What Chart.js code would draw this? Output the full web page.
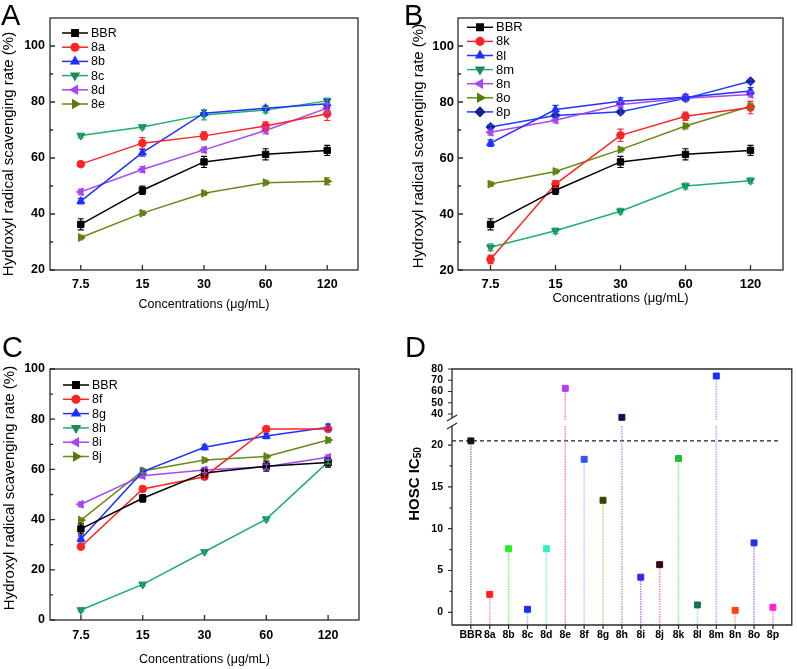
<!DOCTYPE html>
<html>
<head>
<meta charset="utf-8">
<title>Hydroxyl radical scavenging</title>
<script src="https://cdn.jsdelivr.net/npm/chart.js@4.4.1/dist/chart.umd.min.js"></script>
<style>
  body { margin: 0; background: #fff; }
  #wrap { position: relative; width: 797px; height: 669px; overflow: hidden; font-family: "Liberation Sans", Arial, sans-serif; }
  .panel { position: absolute; }
  .panel canvas { display: block; }
  .tag { position: absolute; font-size: 29px; line-height: 1; color: #000; }
</style>
</head>
<body>
<div id="wrap">
  <div class="panel" style="left:0;top:0"><canvas id="chartA" width="400" height="330"></canvas></div>
  <div class="panel" style="left:400px;top:0"><canvas id="chartB" width="397" height="330"></canvas></div>
  <div class="panel" style="left:0;top:330px"><canvas id="chartC" width="400" height="339"></canvas></div>
  <div class="panel" style="left:400px;top:330px"><canvas id="chartD" width="397" height="339"></canvas></div>
  <div class="tag" style="left:1px;top:1px">A</div>
  <div class="tag" style="left:404px;top:1px">B</div>
  <div class="tag" style="left:2px;top:333px">C</div>
  <div class="tag" style="left:405px;top:333px">D</div>
</div>
<script>
// ---- data ----
const concLabels = ["7.5", "15", "30", "60", "120"];
const yTicksAB = [20, 40, 60, 80, 100];
const yTicksC = [0, 20, 40, 60, 80, 100];

const bbrRate = [36.3, 48.5, 58.6, 61.3, 62.7];
const bbrErr = [2.0, 1.5, 2.0, 2.0, 1.8];

// panel A
const rate8a = [57.8, 65.3, 67.9, 71.4, 75.8];
const err8a = [0.8, 2.0, 1.4, 1.5, 2.4];
const rate8b = [44.6, 61.9, 76.0, 77.8, 79.4];
const err8b = [1.0, 1.2, 1.0, 0.8, 1.5];
const rate8c = [68.0, 71.1, 75.4, 77.1, 80.4];
const err8c = [0.8, 0.8, 1.8, 1.0, 1.0];
const rate8d = [47.9, 55.9, 62.9, 69.8, 77.8];
const err8d = [1.0, 1.0, 1.0, 1.2, 1.5];
const rate8e = [31.6, 40.3, 47.4, 51.2, 51.7];
const err8e = [0.8, 0.8, 0.8, 0.8, 1.2];

// panel B
const rate8k = [23.8, 50.7, 68.1, 74.9, 78.0];
const err8k = [1.5, 1.2, 2.2, 1.5, 2.2];
const rate8l = [65.3, 77.3, 80.3, 81.7, 83.9];
const err8l = [1.2, 1.5, 1.2, 1.0, 1.2];
const rate8m = [28.1, 34.0, 41.0, 50.0, 51.9];
const err8m = [1.2, 1.0, 1.0, 1.0, 1.0];
const rate8n = [69.2, 73.5, 79.1, 81.3, 82.7];
const err8n = [1.0, 1.0, 1.0, 1.0, 1.0];
const rate8o = [50.7, 55.2, 63.0, 71.4, 78.5];
const err8o = [0.8, 0.8, 0.8, 1.0, 1.0];
const rate8p = [71.1, 75.2, 76.5, 81.3, 87.4];
const err8p = [0.8, 0.8, 0.8, 0.8, 0.8];

// panel C
const rate8f = [29.2, 52.2, 57.1, 76.1, 76.1];
const err8f = [1.0, 1.0, 1.0, 0.8, 0.8];
const rate8g = [32.3, 59.1, 68.8, 73.3, 76.8];
const err8g = [1.2, 1.0, 1.0, 1.0, 1.2];
const rate8h = [4.0, 14.2, 27.2, 40.2, 63.0];
const err8h = [0.8, 0.8, 0.8, 0.8, 0.8];
const rate8i = [46.1, 57.5, 59.8, 61.1, 64.8];
const err8i = [1.0, 1.0, 1.0, 1.0, 1.0];
const rate8j = [39.8, 59.4, 63.7, 65.1, 71.7];
const err8j = [0.8, 0.8, 0.8, 0.8, 1.0];

// panel D
const compounds = ["BBR", "8a", "8b", "8c", "8d", "8e", "8f", "8g", "8h", "8i", "8j", "8k", "8l", "8m", "8n", "8o", "8p"];
const hoscIC50 = [20.5, 2.15, 7.6, 0.36, 7.6, 62.8, 18.3, 13.4, 37.0, 4.2, 5.7, 18.4, 0.88, 73.8, 0.24, 8.3, 0.6];
const dTicksLow = [0, 5, 10, 15, 20];
const dTicksHigh = [40, 50, 60, 70, 80];
const breakAt = 30;

const markColors = ["#111111", "#ff2020", "#22ee22", "#1a30ff", "#30f0c0", "#b040f0", "#3050ff", "#40400a", "#101050",
  "#3a20f0", "#3a0010", "#20c030", "#107848", "#1a30ff", "#ff4010", "#2030f0", "#ff20d8"];
const stemColors = ["#9a9a9a", "#ff9cb8", "#90ee70", "#a8b8ff", "#80f0d8", "#ff88d8", "#c0c8ff", "#b0e080", "#a8b0f0",
  "#c080f0", "#f090c0", "#90ee90", "#90e8d8", "#a8b8f8", "#ffb090", "#c090f0", "#ff90e0"];

// ---- styles ----
const FONT = '"Liberation Sans", Arial, sans-serif';
Chart.defaults.font.family = FONT;
Chart.defaults.color = "#000";
const FRAME = "#2b2b2b";
const BLACK = "#000000", RED = "#ff2424", BLUE = "#1f30ff", GREEN = "#20ae6e", PURPLE = "#a845f5", OLIVE = "#6a8a14";

function series(label, data, errors, color, style, rotation, pointColor) {
  const r = style === "circle" ? 3.8 : 4.5;
  return {
    label, data, errors,
    borderColor: color, backgroundColor: color, borderWidth: 1.5,
    pointStyle: style, pointRotation: rotation || 0,
    pointRadius: r, pointHoverRadius: r,
    pointBackgroundColor: pointColor || color,
    pointBorderColor: pointColor || color,
    pointBorderWidth: 1,
    tension: 0
  };
}

// ---- plugins ----
const errorBars = {
  id: "errorBars",
  afterDatasetsDraw(chart) {
    const { ctx } = chart;
    const ys = chart.scales.y;
    chart.data.datasets.forEach((ds, i) => {
      if (!ds.errors) return;
      const meta = chart.getDatasetMeta(i);
      ctx.save();
      ctx.strokeStyle = ds.borderColor;
      ctx.lineWidth = 1.2;
      ctx.beginPath();
      meta.data.forEach((pt, j) => {
        const v = ds.data[j], e = ds.errors[j];
        const y1 = ys.getPixelForValue(v + e), y2 = ys.getPixelForValue(v - e);
        ctx.moveTo(pt.x, y1); ctx.lineTo(pt.x, y2);
        ctx.moveTo(pt.x - 3, y1); ctx.lineTo(pt.x + 3, y1);
        ctx.moveTo(pt.x - 3, y2); ctx.lineTo(pt.x + 3, y2);
      });
      ctx.stroke();
      ctx.restore();
    });
  }
};

const insideLegend = {
  id: "insideLegend",
  afterDraw(chart, args, opts) {
    const { ctx, chartArea: a } = chart;
    ctx.save();
    chart.data.datasets.forEach((ds, i) => {
      const y = a.top + opts.top + i * opts.gap;
      const x0 = a.left + opts.left;
      ctx.strokeStyle = ds.borderColor;
      ctx.lineWidth = 1.5;
      ctx.beginPath(); ctx.moveTo(x0, y); ctx.lineTo(x0 + 26, y); ctx.stroke();
      ctx.fillStyle = ds.pointBackgroundColor;
      ctx.strokeStyle = ds.pointBorderColor;
      Chart.helpers.drawPoint(ctx, { pointStyle: ds.pointStyle, rotation: ds.pointRotation, radius: ds.pointRadius, borderWidth: 1 }, x0 + 13, y);
      ctx.fillStyle = "#000";
      ctx.font = opts.size + "px " + FONT;
      ctx.textBaseline = "middle";
      ctx.textAlign = "left";
      ctx.fillText(ds.label, x0 + 29, y + 0.5);
    });
    ctx.restore();
  }
};

const frameTicks = {
  id: "frameTicks",
  afterDraw(chart, args, opts) {
    const { ctx, chartArea: a, scales: { x, y } } = chart;
    ctx.save();
    ctx.strokeStyle = FRAME;
    ctx.lineWidth = 1.3;
    ctx.strokeRect(a.left, a.top, a.right - a.left, a.bottom - a.top);
    ctx.beginPath();
    const major = y.ticks.map(t => t.value);
    major.forEach((v, i) => {
      const py = y.getPixelForValue(v);
      ctx.moveTo(a.left, py); ctx.lineTo(a.left + 5, py);
      if (i < major.length - 1) {
        const pm = y.getPixelForValue((v + major[i + 1]) / 2);
        ctx.moveTo(a.left, pm); ctx.lineTo(a.left + 3, pm);
      }
    });
    x.ticks.forEach((t, i) => {
      const px = x.getPixelForTick(i);
      ctx.moveTo(px, a.bottom); ctx.lineTo(px, a.bottom - 5);
    });
    ctx.stroke();
    // y title
    ctx.translate(opts.titleX, opts.titleY);
    ctx.rotate(-Math.PI / 2);
    ctx.fillStyle = "#000";
    ctx.font = opts.titleSize + "px " + FONT;
    ctx.textAlign = "center";
    ctx.textBaseline = "middle";
    ctx.fillText("Hydroxyl radical scavenging rate (%)", 0, 0);
    ctx.restore();
  }
};

function lineOptions(p) {
  return {
    responsive: false,
    animation: false,
    devicePixelRatio: 1,
    layout: { padding: { left: 0, top: p.top, right: p.right, bottom: p.bottom } },
    plugins: {
      legend: { display: false },
      tooltip: { enabled: false },
      insideLegend: p.legend,
      frameTicks: p.frame
    },
    scales: {
      x: {
        type: "category",
        offset: true,
        grid: { display: false, drawTicks: false },
        border: { display: false },
        ticks: { padding: p.xPad, maxRotation: 0, font: { size: p.tickSize, weight: "bold" } },
        title: { display: true, text: "Concentrations (μg/mL)", font: { size: p.xTitleSize }, padding: { top: 0, bottom: p.xTitlePad } },
        afterFit: s => { s.height = p.xHeight; }
      },
      y: {
        min: p.yMin,
        max: p.yMax,
        afterBuildTicks: s => { s.ticks = p.yTicks.map(v => ({ value: v })); },
        grid: { display: false, drawTicks: false },
        border: { display: false },
        ticks: { padding: p.yPad, font: { size: p.tickSize, weight: "bold" } },
        afterFit: s => { s.width = p.yWidth; }
      }
    }
  };
}

// ---- panel A ----
new Chart(document.getElementById("chartA"), {
  type: "line",
  data: {
    labels: concLabels,
    datasets: [
      series("BBR", bbrRate, bbrErr, BLACK, "rect"),
      series("8a", rate8a, err8a, RED, "circle"),
      series("8b", rate8b, err8b, BLUE, "triangle"),
      series("8c", rate8c, err8c, GREEN, "triangle", 180, "#168c56"),
      series("8d", rate8d, err8d, PURPLE, "triangle", -90),
      series("8e", rate8e, err8e, OLIVE, "triangle", 90, "#5a7a0e")
    ]
  },
  options: lineOptions({
    top: 18, right: 42, bottom: 10, xHeight: 50, yWidth: 50,
    yMin: 20, yMax: 110, yTicks: yTicksAB,
    tickSize: 12.5, xPad: 7, yPad: 5, xTitleSize: 12.5, xTitlePad: 7.5,
    legend: { left: 12, top: 15, gap: 14.2, size: 12.5 },
    frame: { titleX: 9, titleY: 154, titleSize: 15 }
  }),
  plugins: [errorBars, insideLegend, frameTicks]
});

// ---- panel B ----
new Chart(document.getElementById("chartB"), {
  type: "line",
  data: {
    labels: concLabels,
    datasets: [
      series("BBR", bbrRate, bbrErr, BLACK, "rect"),
      series("8k", rate8k, err8k, RED, "circle"),
      series("8l", rate8l, err8l, BLUE, "triangle"),
      series("8m", rate8m, err8m, GREEN, "triangle", 180, "#168c56"),
      series("8n", rate8n, err8n, PURPLE, "triangle", -90),
      series("8o", rate8o, err8o, OLIVE, "triangle", 90, "#5a7a0e"),
      series("8p", rate8p, err8p, "#1f3cff", "rectRot", 0, "#14248c")
    ]
  },
  options: lineOptions({
    top: 18, right: 14, bottom: 10, xHeight: 50, yWidth: 58,
    yMin: 20, yMax: 110, yTicks: yTicksAB,
    tickSize: 13, xPad: 7, yPad: 4, xTitleSize: 13, xTitlePad: 14,
    legend: { left: 9, top: 9.3, gap: 14.1, size: 13 },
    frame: { titleX: 18.5, titleY: 146, titleSize: 15 }
  }),
  plugins: [errorBars, insideLegend, frameTicks]
});

// ---- panel C ----
new Chart(document.getElementById("chartC"), {
  type: "line",
  data: {
    labels: concLabels,
    datasets: [
      series("BBR", bbrRate, bbrErr, BLACK, "rect"),
      series("8f", rate8f, err8f, RED, "circle"),
      series("8g", rate8g, err8g, BLUE, "triangle"),
      series("8h", rate8h, err8h, GREEN, "triangle", 180, "#168c56"),
      series("8i", rate8i, err8i, PURPLE, "triangle", -90),
      series("8j", rate8j, err8j, OLIVE, "triangle", 90, "#5a7a0e")
    ]
  },
  options: lineOptions({
    top: 39, right: 41, bottom: 0, xHeight: 49, yWidth: 50,
    yMin: 0, yMax: 100, yTicks: yTicksC,
    tickSize: 12.5, xPad: 8, yPad: 5, xTitleSize: 12.5, xTitlePad: 1.5,
    legend: { left: 13, top: 16, gap: 14.3, size: 12.5 },
    frame: { titleX: 10, titleY: 158, titleSize: 15 }
  }),
  plugins: [errorBars, insideLegend, frameTicks]
});

// ---- panel D ----
function pickPoints(keep) {
  const pts = [], fill = [];
  hoscIC50.forEach((v, i) => {
    if (keep(v)) { pts.push({ x: i, y: v }); fill.push(markColors[i]); }
  });
  return { pts, fill };
}
const lowPart = pickPoints(v => v <= breakAt);
const highPart = pickPoints(v => v > breakAt);

const hoscDecor = {
  id: "hoscDecor",
  beforeDatasetsDraw(chart) {
    const { ctx, chartArea: a, scales: { x, yLow, yHigh } } = chart;
    ctx.save();
    const yr = yLow.getPixelForValue(hoscIC50[0]);
    ctx.setLineDash([4, 3]);
    ctx.strokeStyle = "#222";
    ctx.lineWidth = 1.3;
    ctx.beginPath(); ctx.moveTo(a.left, yr); ctx.lineTo(a.right - 11, yr); ctx.stroke();
    ctx.lineWidth = 1.6;
    ctx.setLineDash([1.5, 1]);
    hoscIC50.forEach((v, i) => {
      const px = x.getPixelForValue(i);
      ctx.strokeStyle = stemColors[i];
      ctx.beginPath();
      if (v > breakAt) {
        ctx.moveTo(px, a.bottom); ctx.lineTo(px, yLow.top);
        ctx.moveTo(px, yHigh.bottom - 5); ctx.lineTo(px, yHigh.getPixelForValue(v));
      } else {
        ctx.moveTo(px, a.bottom); ctx.lineTo(px, yLow.getPixelForValue(v));
      }
      ctx.stroke();
    });
    ctx.restore();
  },
  afterDraw(chart) {
    const { ctx, chartArea: a, scales: { x, yLow, yHigh } } = chart;
    const gapTop = yLow.top - 7, gapBot = yLow.top + 1;
    ctx.save();
    ctx.strokeStyle = FRAME;
    ctx.lineWidth = 1.3;
    ctx.beginPath();
    ctx.moveTo(a.left, gapTop); ctx.lineTo(a.left, a.top); ctx.lineTo(a.right, a.top);
    ctx.lineTo(a.right, a.bottom); ctx.lineTo(a.left, a.bottom); ctx.lineTo(a.left, gapBot);
    ctx.stroke();
    // break marks
    ctx.beginPath();
    ctx.moveTo(a.left - 5, gapTop + 3); ctx.lineTo(a.left + 5, gapTop - 3);
    ctx.moveTo(a.left - 5, gapBot + 3); ctx.lineTo(a.left + 5, gapBot - 3);
    ctx.stroke();
    // outward ticks
    ctx.lineWidth = 1.2;
    ctx.beginPath();
    dTicksLow.forEach((v, i) => {
      const py = yLow.getPixelForValue(v);
      ctx.moveTo(a.left, py); ctx.lineTo(a.left - 4, py);
      if (i < dTicksLow.length - 1) {
        const pm = yLow.getPixelForValue(v + 2.5);
        ctx.moveTo(a.left, pm); ctx.lineTo(a.left - 2.5, pm);
      }
    });
    dTicksHigh.forEach(v => {
      const py = yHigh.getPixelForValue(v);
      ctx.moveTo(a.left, py); ctx.lineTo(a.left - 4, py);
    });
    compounds.forEach((c, i) => {
      const px = x.getPixelForValue(i);
      ctx.moveTo(px, a.bottom); ctx.lineTo(px, a.bottom + 4);
    });
    ctx.stroke();
    // y title with subscript
    ctx.translate(15, 154);
    ctx.rotate(-Math.PI / 2);
    ctx.fillStyle = "#000";
    ctx.textBaseline = "middle";
    ctx.textAlign = "left";
    ctx.font = "bold 15px " + FONT;
    const main = "HOSC IC";
    const w1 = ctx.measureText(main).width;
    ctx.font = "bold 10px " + FONT;
    const w2 = ctx.measureText("50").width;
    const x0 = -(w1 + w2) / 2;
    ctx.font = "bold 15px " + FONT;
    ctx.fillText(main, x0, 0);
    ctx.font = "bold 10px " + FONT;
    ctx.fillText("50", x0 + w1, 3);
    ctx.restore();
  }
};

function markerSet(part, axis) {
  return {
    data: part.pts,
    yAxisID: axis,
    pointStyle: "rect",
    pointRadius: 4.2,
    pointHoverRadius: 4.2,
    pointBackgroundColor: part.fill,
    pointBorderColor: part.fill,
    pointBorderWidth: 1
  };
}

const dTickFont = { size: 10.5, weight: "bold" };
new Chart(document.getElementById("chartD"), {
  type: "scatter",
  data: { datasets: [markerSet(lowPart, "yLow"), markerSet(highPart, "yHigh")] },
  options: {
    responsive: false,
    animation: false,
    devicePixelRatio: 1,
    layout: { padding: { left: 0, top: 39, right: 4, bottom: 0 } },
    plugins: { legend: { display: false }, tooltip: { enabled: false } },
    scales: {
      x: {
        type: "linear",
        min: -1,
        max: 17,
        afterBuildTicks: s => { s.ticks = compounds.map((c, i) => ({ value: i })); },
        grid: { display: false, drawTicks: false },
        border: { display: false },
        ticks: { callback: v => compounds[v], autoSkip: false, maxRotation: 0, padding: 4, font: dTickFont },
        afterFit: s => { s.height = 44; }
      },
      yLow: {
        type: "linear",
        position: "left",
        stack: "ic50",
        stackWeight: 200,
        min: -1.52,
        max: 22.4,
        afterBuildTicks: s => { s.ticks = dTicksLow.map(v => ({ value: v })); },
        grid: { display: false, drawTicks: false },
        border: { display: false },
        ticks: { padding: 9, autoSkip: false, font: dTickFont },
        afterFit: s => { s.width = 52; }
      },
      yHigh: {
        type: "linear",
        position: "left",
        stack: "ic50",
        stackWeight: 56,
        min: 30.2,
        max: 80,
        afterBuildTicks: s => { s.ticks = dTicksHigh.map(v => ({ value: v })); },
        grid: { display: false, drawTicks: false },
        border: { display: false },
        ticks: { padding: 9, autoSkip: false, font: dTickFont },
        afterFit: s => { s.width = 52; }
      }
    }
  },
  plugins: [hoscDecor]
});
</script>
</body>
</html>
